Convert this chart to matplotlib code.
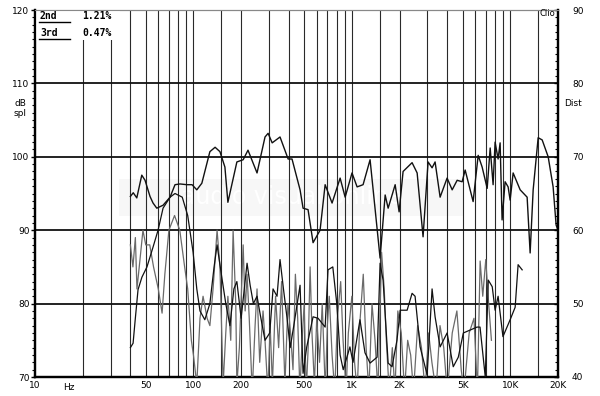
import matplotlib
matplotlib.use('Agg')
import matplotlib.pyplot as plt
from matplotlib.patches import Rectangle
from matplotlib.lines import Line2D

# frequency response (left axis, dB spl)
resp_f = [40, 41.7, 43.9, 47.2, 49.5, 53.2, 55.6, 58.7, 64.3, 71.2, 76.5, 82.3, 91, 98,
          105, 113, 127, 137, 147, 158, 165, 188, 206, 221, 252, 283, 296, 314, 352,
          396, 419, 471, 492, 529, 569, 630, 678, 750, 843, 907, 1002, 1079, 1177, 1303,
          1507, 1622, 1694, 1876, 1987, 2105, 2399, 2582, 2814, 3027, 3208, 3352, 3605,
          3991, 4296, 4618, 4966, 5188, 5825, 6269, 6641, 7145, 7464, 7788, 8017, 8375,
          8624, 8875, 9272, 9686, 9975, 10420, 11540, 12770, 13340, 13940, 14990, 15890,
          17340, 18630, 19460, 20000]
resp_db = [94.6, 95.1, 94.4, 97.5, 96.8, 94.6, 93.7, 93.0, 93.4, 94.5, 96.2, 96.3, 96.2, 96.2,
           95.5, 96.4, 100.7, 101.3, 100.7, 98.6, 93.8, 99.3, 99.6, 100.9, 97.8, 102.7, 103.2,
           101.9, 102.7, 99.7, 99.7, 95.5, 93.0, 92.8, 88.3, 90.0, 96.2, 93.7, 97.1, 94.5,
           97.8, 95.9, 96.2, 99.6, 86.2, 94.8, 93.0, 96.2, 92.5, 98.0, 99.2, 97.8, 89.1,
           99.3, 98.5, 99.3, 94.5, 97.1, 95.5, 96.8, 96.6, 98.2, 93.9, 100.2, 98.6, 95.7,
           101.2, 96.2, 102.0, 99.7, 101.9, 91.4, 96.6, 95.9, 94.1, 97.8, 95.5, 94.5, 86.9,
           95.5, 102.6, 102.3, 100.0, 95.9, 90.7, 90.0]

# 2nd harmonic distortion (right axis)
h2_f = [40, 41.6, 42.9, 44.7, 47.3, 50.9, 55.6, 59.8, 64.3, 71.2, 76.5, 85, 92, 99.5, 105,
        110, 118, 127, 135, 141, 150, 160, 170, 180, 188, 200, 218, 228, 239, 252, 264, 283,
        303, 318, 337, 352, 370, 390, 408, 430, 471, 492, 519, 569, 612, 678, 707, 758, 803,
        843, 882, 972, 1017, 1125, 1210, 1303, 1443, 1507, 1574, 1694, 1793, 1926, 2017,
        2232, 2399, 2506, 2696, 2985, 3208, 3352, 3605, 3991, 4364, 4696, 5053, 5583, 6165,
        6441, 6950, 7260, 7690, 8017, 8375, 8985, 9975, 10730, 11200, 11880]
h2_db = [44.0, 44.6, 47.8, 51.9, 53.6, 55.0, 57.7, 60.0, 63.0, 64.5, 65.0, 64.5, 62.0, 57.0,
         52.0, 49.0, 47.8, 50.0, 55.0, 58.0, 54.0, 50.0, 47.0, 52.0, 53.0, 48.0, 55.5, 52.5,
         50.0, 51.0, 48.5, 45.0, 46.0, 52.0, 51.0, 56.0, 52.0, 48.0, 44.0, 47.0, 52.5, 40.5,
         44.1, 48.2, 48.0, 46.8, 54.6, 55.0, 50.0, 43.0, 41.0, 44.1, 42.0, 47.8, 43.3, 41.9,
         42.7, 55.5, 53.2, 41.9, 41.4, 45.0, 49.1, 49.1, 51.4, 51.0, 44.1, 40.3, 52.0, 48.2,
         44.1, 46.0, 41.4, 42.7, 46.0, 46.4, 46.8, 46.8, 40.0, 53.2, 52.3, 49.1, 51.0, 45.5,
         47.8, 49.5, 55.3, 54.6]

# 3rd harmonic distortion (right axis)
h3_f = [40, 41.5, 43, 44, 46, 48, 50, 53, 56, 60, 63.4, 66, 70, 76, 82, 88, 92, 97, 100, 105,
        110, 115, 122, 127, 133, 141, 147, 154, 160, 165, 172, 178, 185, 188, 195, 206, 212,
        218, 225, 235, 245, 252, 262, 275, 283, 295, 305, 315, 330, 345, 360, 378, 395, 410,
        425, 440, 455, 470, 485, 500, 515, 530, 545, 560, 580, 600, 625, 650, 680, 700, 720,
        750, 780, 810, 850, 880, 920, 950, 1000, 1040, 1080, 1120, 1180, 1230, 1280, 1340,
        1400, 1460, 1540, 1600, 1650, 1720, 1800, 1870, 1950, 2050, 2150, 2250, 2350, 2450,
        2600, 2750, 2900, 3050, 3200, 3400, 3600, 3800, 4000, 4300, 4600, 4900, 5100, 5500,
        5900, 6200, 6450, 6700, 7000, 7300, 7600]
h3_db = [58, 55, 59, 52, 56, 60, 58, 58, 55, 52, 48.7, 54, 60, 62, 60, 55, 52, 45, 43, 39,
         48, 51, 48, 47, 52, 60, 55, 39, 46, 51, 45, 60, 50, 39, 44, 58, 49, 54, 48, 38, 47,
         52, 42, 49, 45, 38, 47, 39, 51, 44, 53, 39, 50, 46, 41, 54, 48, 38, 45, 50, 38, 44,
         55, 46, 39, 48, 42, 50, 38, 47, 51, 43, 38, 48, 53, 45, 38, 46, 51, 42, 38, 47, 54,
         44, 38, 50, 45, 38, 57, 52, 45, 38, 44, 38, 49, 46, 38, 45, 43, 38, 47, 44, 38, 46,
         42, 38, 47, 44, 38, 46, 49, 41, 38, 46, 48, 38, 55.8, 51, 56, 50, 45]

grid_f = [20, 30, 40, 50, 60, 70, 80, 90, 100, 150, 200, 300, 400, 500, 600, 700, 800, 900,
          1000, 1500, 2000, 3000, 4000, 5000, 6000, 7000, 8000, 9000, 10000, 15000]
xtick_f = [10, 50, 100, 200, 500, 1000, 2000, 5000, 10000, 20000]
xtick_lab = ['10', '50', '100', '200', '500', '1K', '2K', '5K', '10K', '20K']

FONT = 'DejaVu Sans'
FS = 6.5

fig = plt.figure(figsize=(6, 3.96), dpi=100)
fig.patch.set_facecolor('white')
ax = fig.add_axes([35 / 600, 1 - 377 / 396, 523 / 600, 367 / 396])
ax.set_xscale('log')
ax.set_xlim(10, 20000)
ax.set_ylim(70, 120)

# faint watermark band
ax.add_patch(Rectangle((0.16, 0.44), 0.66, 0.1, transform=ax.transAxes,
                       facecolor='#f7f7f7', edgecolor='none', zorder=0))
ax.text(0.49, 0.49, 'audio visual online', transform=ax.transAxes, ha='center',
        va='center', fontsize=17, color='white', zorder=0.5)

for f in grid_f:
    ax.axvline(f, color='#2a2a2a', lw=0.8, zorder=1)
for y in [80, 90, 100, 110]:
    ax.axhline(y, color='#111111', lw=1.3, zorder=1)

ax2 = ax.twinx()
ax2.set_ylim(40, 90)
ax2.set_xlim(10, 20000)

ax2.plot(h3_f, h3_db, color='#6a6a6a', lw=0.9, zorder=3)
ax2.plot(h2_f, h2_db, color='#111111', lw=0.9, zorder=4)
ax.plot(resp_f, resp_db, color='#111111', lw=1.0, zorder=5)

# legend box covering the grid at top-left
ax.add_patch(Rectangle((0, 0.918), 0.163, 0.082, transform=ax.transAxes,
                       facecolor='white', edgecolor='none', zorder=6))
mono = 'DejaVu Sans Mono'
fig.text(40 / 600, 1 - 16 / 396, '2nd', fontsize=7, fontweight='bold', family=mono,
         va='center', ha='left')
fig.text(82 / 600, 1 - 16 / 396, '1.21%', fontsize=7, fontweight='bold', family=mono,
         va='center', ha='left')
fig.text(40 / 600, 1 - 33 / 396, '3rd', fontsize=7, fontweight='bold', family=mono,
         va='center', ha='left')
fig.text(82 / 600, 1 - 33 / 396, '0.47%', fontsize=7, fontweight='bold', family=mono,
         va='center', ha='left')
for yy in [22, 39]:
    fig.add_artist(Line2D([39 / 600, 70 / 600], [1 - yy / 396, 1 - yy / 396],
                          color='black', lw=1.0))

# axes styling
for side in ['left', 'right', 'bottom']:
    ax.spines[side].set_linewidth(1.6)
    ax2.spines[side].set_linewidth(1.6)
ax.spines['top'].set_color('#888888')
ax2.spines['top'].set_color('#888888')

ax.set_yticks([70, 80, 90, 100, 110, 120])
ax.set_yticklabels(['70', '80', '90', '100', '110', '120'], fontsize=FS, family=FONT)
ax.set_yticks(range(70, 121), minor=True)
ax.tick_params(axis='y', which='major', length=3, width=1, pad=1)
ax.tick_params(axis='y', which='minor', length=2, width=0.8)

ax2.set_yticks([40, 50, 60, 70, 80, 90])
ax2.set_yticklabels(['40', '50', '60', '70', '80', '90'], fontsize=FS, family=FONT)
ax2.set_yticks(range(40, 91), minor=True)
ax2.tick_params(axis='y', which='major', direction='in', length=3, width=1, pad=10)
ax2.tick_params(axis='y', which='minor', direction='in', length=2, width=0.8)

ax.set_xticks(xtick_f)
ax.set_xticklabels(xtick_lab, fontsize=FS, family=FONT)
ax.xaxis.set_minor_locator(matplotlib.ticker.NullLocator())
ax.tick_params(axis='x', length=0, pad=3)
ax2.tick_params(axis='x', length=0)

fig.text(63 / 600, 1 - 387 / 396, 'Hz', fontsize=FS, family=FONT, ha='left', va='center')
fig.text(20 / 600, 1 - 103 / 396, 'dB', fontsize=FS, family=FONT, ha='center', va='center')
fig.text(20 / 600, 1 - 114 / 396, 'spl', fontsize=FS, family=FONT, ha='center', va='center')
fig.text(573 / 600, 1 - 103 / 396, 'Dist', fontsize=FS, family=FONT, ha='center', va='center')
fig.text(547 / 600, 1 - 14 / 396, 'Clio', fontsize=FS - 0.5, family=FONT, ha='center',
         va='center')

fig.savefig('out.png', dpi=100, facecolor='white')
